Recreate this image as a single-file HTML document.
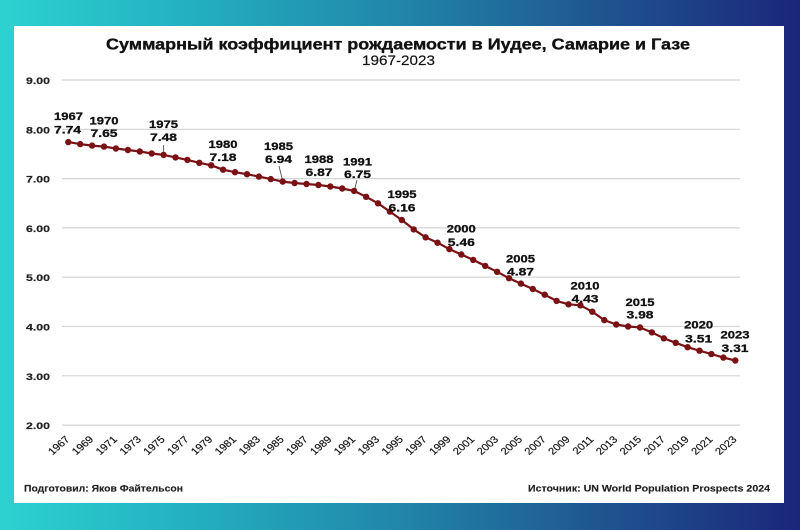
<!DOCTYPE html>
<html><head><meta charset="utf-8"><style>
html,body{margin:0;padding:0;width:800px;height:530px;overflow:hidden;}
svg{display:block;}
</style></head><body>
<svg width="800" height="530" viewBox="0 0 800 530" xmlns="http://www.w3.org/2000/svg" font-family="'Liberation Sans', 'DejaVu Sans', sans-serif">
<defs>
<linearGradient id="bg" x1="0" y1="0" x2="1" y2="0">
<stop offset="0" stop-color="#2cd2d0"/>
<stop offset="0.25" stop-color="#23aec0"/>
<stop offset="0.5" stop-color="#2186a9"/>
<stop offset="0.75" stop-color="#1f5590"/>
<stop offset="1" stop-color="#1b267a"/>
</linearGradient>
</defs>
<rect x="0" y="0" width="800" height="530" fill="url(#bg)"/>
<rect x="14" y="26" width="770" height="477" fill="#ffffff"/>

<!-- Title -->
<text x="106" y="49.3" font-size="15.5" font-weight="bold" fill="#111" stroke="#111" stroke-width="0.35" textLength="584" lengthAdjust="spacingAndGlyphs">Суммарный коэффициент рождаемости в Иудее, Самарие и Газе</text>
<text x="362" y="65" font-size="14" fill="#111" stroke="#111" stroke-width="0.15" textLength="73" lengthAdjust="spacingAndGlyphs">1967-2023</text>

<!-- Gridlines -->
<g stroke="#d4d4d4" stroke-width="1.2">
<line x1="62" x2="740" y1="80" y2="80"/>
<line x1="62" x2="740" y1="129.3" y2="129.3"/>
<line x1="62" x2="740" y1="178.6" y2="178.6"/>
<line x1="62" x2="740" y1="227.9" y2="227.9"/>
<line x1="62" x2="740" y1="277.2" y2="277.2"/>
<line x1="62" x2="740" y1="326.5" y2="326.5"/>
<line x1="62" x2="740" y1="375.8" y2="375.8"/>
<line x1="62" x2="740" y1="425.1" y2="425.1"/>
</g>

<!-- Y labels -->
<g font-size="9.5" font-weight="bold" fill="#222" stroke="#222" stroke-width="0.2">
<text x="26" y="84" textLength="24" lengthAdjust="spacingAndGlyphs">9.00</text>
<text x="26" y="133.3" textLength="24" lengthAdjust="spacingAndGlyphs">8.00</text>
<text x="26" y="182.6" textLength="24" lengthAdjust="spacingAndGlyphs">7.00</text>
<text x="26" y="231.9" textLength="24" lengthAdjust="spacingAndGlyphs">6.00</text>
<text x="26" y="281.2" textLength="24" lengthAdjust="spacingAndGlyphs">5.00</text>
<text x="26" y="330.5" textLength="24" lengthAdjust="spacingAndGlyphs">4.00</text>
<text x="26" y="379.8" textLength="24" lengthAdjust="spacingAndGlyphs">3.00</text>
<text x="26" y="429.1" textLength="24" lengthAdjust="spacingAndGlyphs">2.00</text>
</g>

<!-- X labels -->
<g font-size="9.8" fill="#1a1a1a" stroke="#1a1a1a" stroke-width="0.2" text-anchor="end">
<text transform="translate(70.3,440) scale(1.15,1) rotate(-45)">1967</text>
<text transform="translate(94.1,440) scale(1.15,1) rotate(-45)">1969</text>
<text transform="translate(117.9,440) scale(1.15,1) rotate(-45)">1971</text>
<text transform="translate(141.8,440) scale(1.15,1) rotate(-45)">1973</text>
<text transform="translate(165.6,440) scale(1.15,1) rotate(-45)">1975</text>
<text transform="translate(189.4,440) scale(1.15,1) rotate(-45)">1977</text>
<text transform="translate(213.2,440) scale(1.15,1) rotate(-45)">1979</text>
<text transform="translate(237.0,440) scale(1.15,1) rotate(-45)">1981</text>
<text transform="translate(260.9,440) scale(1.15,1) rotate(-45)">1983</text>
<text transform="translate(284.7,440) scale(1.15,1) rotate(-45)">1985</text>
<text transform="translate(308.5,440) scale(1.15,1) rotate(-45)">1987</text>
<text transform="translate(332.3,440) scale(1.15,1) rotate(-45)">1989</text>
<text transform="translate(356.1,440) scale(1.15,1) rotate(-45)">1991</text>
<text transform="translate(380.0,440) scale(1.15,1) rotate(-45)">1993</text>
<text transform="translate(403.8,440) scale(1.15,1) rotate(-45)">1995</text>
<text transform="translate(427.6,440) scale(1.15,1) rotate(-45)">1997</text>
<text transform="translate(451.4,440) scale(1.15,1) rotate(-45)">1999</text>
<text transform="translate(475.2,440) scale(1.15,1) rotate(-45)">2001</text>
<text transform="translate(499.1,440) scale(1.15,1) rotate(-45)">2003</text>
<text transform="translate(522.9,440) scale(1.15,1) rotate(-45)">2005</text>
<text transform="translate(546.7,440) scale(1.15,1) rotate(-45)">2007</text>
<text transform="translate(570.5,440) scale(1.15,1) rotate(-45)">2009</text>
<text transform="translate(594.3,440) scale(1.15,1) rotate(-45)">2011</text>
<text transform="translate(618.2,440) scale(1.15,1) rotate(-45)">2013</text>
<text transform="translate(642.0,440) scale(1.15,1) rotate(-45)">2015</text>
<text transform="translate(665.8,440) scale(1.15,1) rotate(-45)">2017</text>
<text transform="translate(689.6,440) scale(1.15,1) rotate(-45)">2019</text>
<text transform="translate(713.4,440) scale(1.15,1) rotate(-45)">2021</text>
<text transform="translate(737.3,440) scale(1.15,1) rotate(-45)">2023</text>
</g>

<!-- Leader lines -->
<g stroke="#555" stroke-width="0.9">
<line x1="163.6" y1="145" x2="163.6" y2="154"/>
<line x1="279" y1="166" x2="282.7" y2="181"/>
<line x1="357" y1="180" x2="354.5" y2="190"/>
</g>

<!-- Series -->
<polyline fill="none" stroke="#7a1215" stroke-width="2.2" stroke-linejoin="round" points="68.3,142.1 80.2,144.1 92.1,145.6 104.0,146.6 115.9,148.5 127.9,150.0 139.8,151.5 151.7,153.5 163.6,154.9 175.5,157.4 187.4,159.9 199.3,162.8 211.2,165.3 223.1,169.7 235.0,172.2 247.0,174.2 258.9,176.6 270.8,179.1 282.7,181.6 294.6,183.0 306.5,184.0 318.4,185.0 330.3,186.5 342.2,188.5 354.1,190.9 366.1,196.8 378.0,203.3 389.9,211.6 401.8,220.0 413.7,229.4 425.6,237.3 437.5,242.7 449.4,249.1 461.3,254.5 473.2,259.9 485.2,265.9 497.1,271.8 509.0,278.2 520.9,283.6 532.8,289.0 544.7,294.7 556.6,300.9 568.5,304.3 580.4,305.3 592.3,311.7 604.3,320.1 616.2,324.5 628.1,326.5 640.0,327.5 651.9,332.4 663.8,338.3 675.7,342.8 687.6,347.2 699.5,350.7 711.4,354.1 723.4,357.6 735.3,360.5"/>
<g fill="#7a1215">
<circle cx="68.3" cy="142.1" r="3.2"/><circle cx="80.2" cy="144.1" r="3.2"/><circle cx="92.1" cy="145.6" r="3.2"/><circle cx="104.0" cy="146.6" r="3.2"/><circle cx="115.9" cy="148.5" r="3.2"/><circle cx="127.9" cy="150.0" r="3.2"/><circle cx="139.8" cy="151.5" r="3.2"/><circle cx="151.7" cy="153.5" r="3.2"/><circle cx="163.6" cy="154.9" r="3.2"/><circle cx="175.5" cy="157.4" r="3.2"/><circle cx="187.4" cy="159.9" r="3.2"/><circle cx="199.3" cy="162.8" r="3.2"/><circle cx="211.2" cy="165.3" r="3.2"/><circle cx="223.1" cy="169.7" r="3.2"/><circle cx="235.0" cy="172.2" r="3.2"/><circle cx="247.0" cy="174.2" r="3.2"/><circle cx="258.9" cy="176.6" r="3.2"/><circle cx="270.8" cy="179.1" r="3.2"/><circle cx="282.7" cy="181.6" r="3.2"/><circle cx="294.6" cy="183.0" r="3.2"/><circle cx="306.5" cy="184.0" r="3.2"/><circle cx="318.4" cy="185.0" r="3.2"/><circle cx="330.3" cy="186.5" r="3.2"/><circle cx="342.2" cy="188.5" r="3.2"/><circle cx="354.1" cy="190.9" r="3.2"/><circle cx="366.1" cy="196.8" r="3.2"/><circle cx="378.0" cy="203.3" r="3.2"/><circle cx="389.9" cy="211.6" r="3.2"/><circle cx="401.8" cy="220.0" r="3.2"/><circle cx="413.7" cy="229.4" r="3.2"/><circle cx="425.6" cy="237.3" r="3.2"/><circle cx="437.5" cy="242.7" r="3.2"/><circle cx="449.4" cy="249.1" r="3.2"/><circle cx="461.3" cy="254.5" r="3.2"/><circle cx="473.2" cy="259.9" r="3.2"/><circle cx="485.2" cy="265.9" r="3.2"/><circle cx="497.1" cy="271.8" r="3.2"/><circle cx="509.0" cy="278.2" r="3.2"/><circle cx="520.9" cy="283.6" r="3.2"/><circle cx="532.8" cy="289.0" r="3.2"/><circle cx="544.7" cy="294.7" r="3.2"/><circle cx="556.6" cy="300.9" r="3.2"/><circle cx="568.5" cy="304.3" r="3.2"/><circle cx="580.4" cy="305.3" r="3.2"/><circle cx="592.3" cy="311.7" r="3.2"/><circle cx="604.3" cy="320.1" r="3.2"/><circle cx="616.2" cy="324.5" r="3.2"/><circle cx="628.1" cy="326.5" r="3.2"/><circle cx="640.0" cy="327.5" r="3.2"/><circle cx="651.9" cy="332.4" r="3.2"/><circle cx="663.8" cy="338.3" r="3.2"/><circle cx="675.7" cy="342.8" r="3.2"/><circle cx="687.6" cy="347.2" r="3.2"/><circle cx="699.5" cy="350.7" r="3.2"/><circle cx="711.4" cy="354.1" r="3.2"/><circle cx="723.4" cy="357.6" r="3.2"/><circle cx="735.3" cy="360.5" r="3.2"/>
</g>

<!-- Data labels -->
<g font-size="11" font-weight="bold" fill="#111" stroke="#111" stroke-width="0.3" text-anchor="middle">
<text x="68.5" y="120" textLength="29" lengthAdjust="spacingAndGlyphs">1967</text>
<text x="67.5" y="133.5" textLength="27" lengthAdjust="spacingAndGlyphs">7.74</text>
<text x="104" y="124.5" textLength="29" lengthAdjust="spacingAndGlyphs">1970</text>
<text x="104" y="137" textLength="27" lengthAdjust="spacingAndGlyphs">7.65</text>
<text x="163.5" y="128" textLength="29" lengthAdjust="spacingAndGlyphs">1975</text>
<text x="163.5" y="141" textLength="27" lengthAdjust="spacingAndGlyphs">7.48</text>
<text x="223" y="148" textLength="29" lengthAdjust="spacingAndGlyphs">1980</text>
<text x="223" y="161" textLength="27" lengthAdjust="spacingAndGlyphs">7.18</text>
<text x="278.5" y="150" textLength="29" lengthAdjust="spacingAndGlyphs">1985</text>
<text x="278.5" y="163" textLength="27" lengthAdjust="spacingAndGlyphs">6.94</text>
<text x="319" y="163" textLength="29" lengthAdjust="spacingAndGlyphs">1988</text>
<text x="319" y="176" textLength="27" lengthAdjust="spacingAndGlyphs">6.87</text>
<text x="357.5" y="165.5" textLength="29" lengthAdjust="spacingAndGlyphs">1991</text>
<text x="357.5" y="178" textLength="27" lengthAdjust="spacingAndGlyphs">6.75</text>
<text x="402" y="198" textLength="29" lengthAdjust="spacingAndGlyphs">1995</text>
<text x="402" y="211.5" textLength="27" lengthAdjust="spacingAndGlyphs">6.16</text>
<text x="461.3" y="232.7" textLength="29" lengthAdjust="spacingAndGlyphs">2000</text>
<text x="461.3" y="246" textLength="27" lengthAdjust="spacingAndGlyphs">5.46</text>
<text x="520.5" y="262.3" textLength="29" lengthAdjust="spacingAndGlyphs">2005</text>
<text x="520.5" y="275.7" textLength="27" lengthAdjust="spacingAndGlyphs">4.87</text>
<text x="585" y="289.3" textLength="29" lengthAdjust="spacingAndGlyphs">2010</text>
<text x="585" y="302.7" textLength="27" lengthAdjust="spacingAndGlyphs">4.43</text>
<text x="640" y="306" textLength="29" lengthAdjust="spacingAndGlyphs">2015</text>
<text x="640" y="318.5" textLength="27" lengthAdjust="spacingAndGlyphs">3.98</text>
<text x="698.7" y="328.3" textLength="29" lengthAdjust="spacingAndGlyphs">2020</text>
<text x="698.7" y="342.3" textLength="27" lengthAdjust="spacingAndGlyphs">3.51</text>
<text x="735" y="338.3" textLength="29" lengthAdjust="spacingAndGlyphs">2023</text>
<text x="735" y="352" textLength="27" lengthAdjust="spacingAndGlyphs">3.31</text>
</g>

<!-- Footer -->
<text x="24" y="491.5" font-size="9.5" font-weight="bold" fill="#222" stroke="#222" stroke-width="0.15" textLength="159" lengthAdjust="spacingAndGlyphs">Подготовил: Яков Файтельсон</text>
<text x="528" y="491.5" font-size="9.5" font-weight="bold" fill="#222" stroke="#222" stroke-width="0.15" textLength="242" lengthAdjust="spacingAndGlyphs">Источник: UN World Population Prospects 2024</text>
</svg>
</body></html>
